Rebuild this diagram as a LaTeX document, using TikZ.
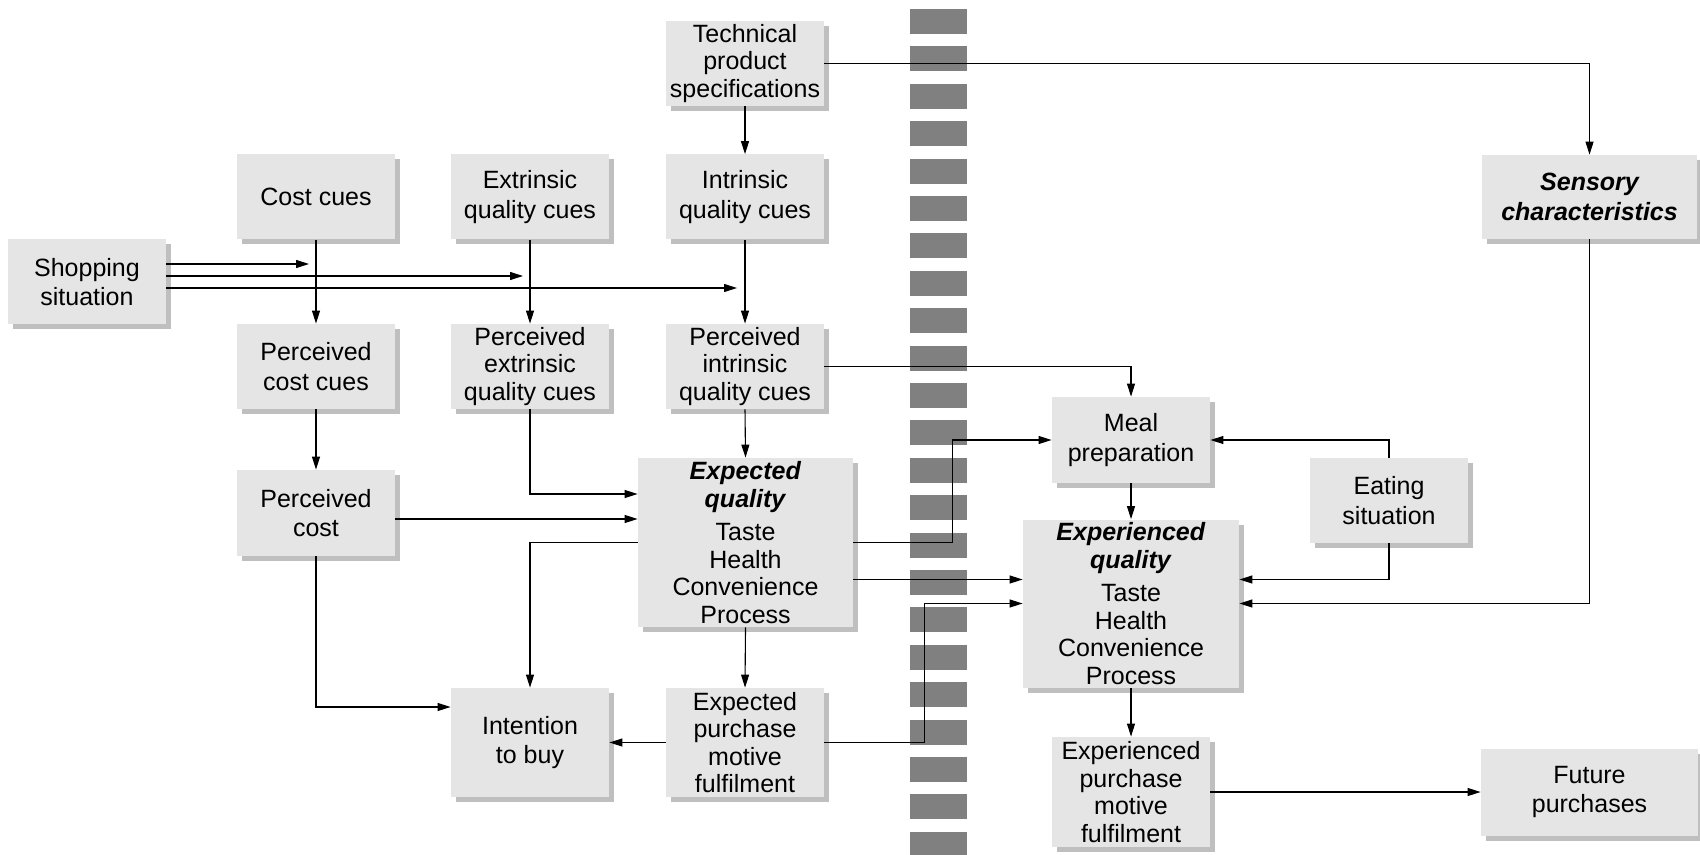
\documentclass[tikz,border=0pt]{standalone}
\usepackage{fontspec}
\setmainfont{Liberation Sans}
\usetikzlibrary{arrows.meta,shadows}

\begin{document}
\begin{tikzpicture}[x=0.5pt,y=-0.5pt]
    \tikzset{
      box/.style={fill=black!10, align=center, inner sep=0pt,
        minimum width=79pt, minimum height=42.5pt,
        font=\fontsize{12.5}{13.75}\selectfont,
        drop shadow={shadow xshift=2.5pt, shadow yshift=-2.5pt, fill=black!25, opacity=1}},
      pair/.style={box, font=\fontsize{12.5}{14.9}\selectfont},
      widebox/.style={box, minimum width=107.5pt},
      keybox/.style={widebox, font=\fontsize{12.5}{14.9}\selectfont\bfseries\itshape},
      link/.style={line width=0.55pt, -{Triangle[length=6.5pt,width=4pt]}},
      bar/.style={fill=black!50}
    }
    \useasboundingbox (0,0) rectangle (1700,855);

    % divider between purchase and consumption
    \foreach \k in {0,...,22}
      \fill[bar] (910,9+37.4*\k) rectangle (967,34+37.4*\k);

    % before purchase
    \node[box] (tech) at (745,63.5) {Technical\\product\\specifications};
    \node[pair] (cost) at (316,197) {Cost cues};
    \node[pair] (extr) at (530,197) {Extrinsic\\quality cues};
    \node[pair] (intr) at (745,197) {Intrinsic\\quality cues};
    \node[pair] (shop) at (87,282) {Shopping\\situation};
    \node[pair] (pcc) at (316,366.5) {Perceived\\cost cues};
    \node[box] (pext) at (530,366.5) {Perceived\\extrinsic\\quality cues};
    \node[box] (pint) at (745,366.5) {Perceived\\intrinsic\\quality cues};
    \node[pair, minimum height=43pt] (pcost) at (316,513) {Perceived\\cost};
    \node[widebox, minimum height=84.5pt] (expq) at (745.5,542.5)
      {\textbf{\textit{Expected}}\\\textbf{\textit{quality}}\\[3pt]Taste\\Health\\Convenience\\Process};
    \node[pair, minimum height=54.5pt] (intent) at (530,742.5) {Intention\\to buy};
    \node[box, minimum height=54.5pt] (exppm) at (745,742.5) {Expected\\purchase\\motive\\fulfilment};

    % after purchase
    \node[keybox, minimum height=42pt] (sens) at (1589.5,197) {Sensory\\characteristics};
    \node[pair, minimum height=43pt] (meal) at (1131,440) {Meal\\preparation};
    \node[pair] (eat) at (1389,500.5) {Eating\\situation};
    \node[widebox, minimum width=108pt, minimum height=84pt] (expdq) at (1131,603.5)
      {\textbf{\textit{Experienced}}\\\textbf{\textit{quality}}\\[3pt]Taste\\Health\\Convenience\\Process};
    \node[box, minimum height=55pt] (experpm) at (1131,792) {Experienced\\purchase\\motive\\fulfilment};
    \node[pair, minimum width=108.5pt, minimum height=43.5pt] (future) at (1589.5,792) {Future\\purchases};

    % entry points
    \coordinate (shopA) at (309,264);
    \coordinate (shopB) at (523,276);
    \coordinate (shopC) at (737,288);
    \coordinate (inB) at ([yshift=11.75pt]expq.west);
    \coordinate (inI) at ([yshift=17.75pt]intent.west);
    \coordinate (inE) at ([yshift=12pt]expdq.west);
    \coordinate (inR) at ([yshift=12pt]expdq.east);

    % connectors
    \draw[link] (tech.south) -- (intr.north);
    \draw[link] (tech.east) -| (sens.north);
    \draw[link] (cost.south) -- (pcc.north);
    \draw[link] (extr.south) -- (pext.north);
    \draw[link] (intr.south) -- (pint.north);
    \draw[link] (shop.east |- shopA) -- (shopA);
    \draw[link] (shop.east |- shopB) -- (shopB);
    \draw[link] (shop.east |- shopC) -- (shopC);
    \draw[link] (pcc.south) -- (pcost.north);
    \draw[link] (pint.south) -- (expq.north);
    \draw[link] (pint.east) -| (meal.north);
    \draw[link] (pext.south) |- ([yshift=24.25pt]expq.west);
    \draw[link] (pcost.east |- inB) -- (inB);
    \draw[link] (expq.west) -| (intent.north);
    \draw[link] (pcost.south) |- (inI);
    \draw[link] (expq.south) -- (exppm.north);
    \draw[link] (exppm.west) -- (intent.east);
    \draw[link] (expq.east) -- ++(99,0) |- (meal.west);
    \draw[link] (expq.east |- inE) -- (inE);
    \draw[link] (exppm.east) -- ++(100,0) |- (expdq.west);
    \draw[link] (meal.south) -- (expdq.north);
    \draw[link] (eat.north) |- (meal.east);
    \draw[link] (eat.south) |- (inR);
    \draw[link] (sens.south) |- (expdq.east);
    \draw[link] (expdq.south) -- (experpm.north);
    \draw[link] (experpm.east) -- (future.west);
  \end{tikzpicture}
\end{document}
